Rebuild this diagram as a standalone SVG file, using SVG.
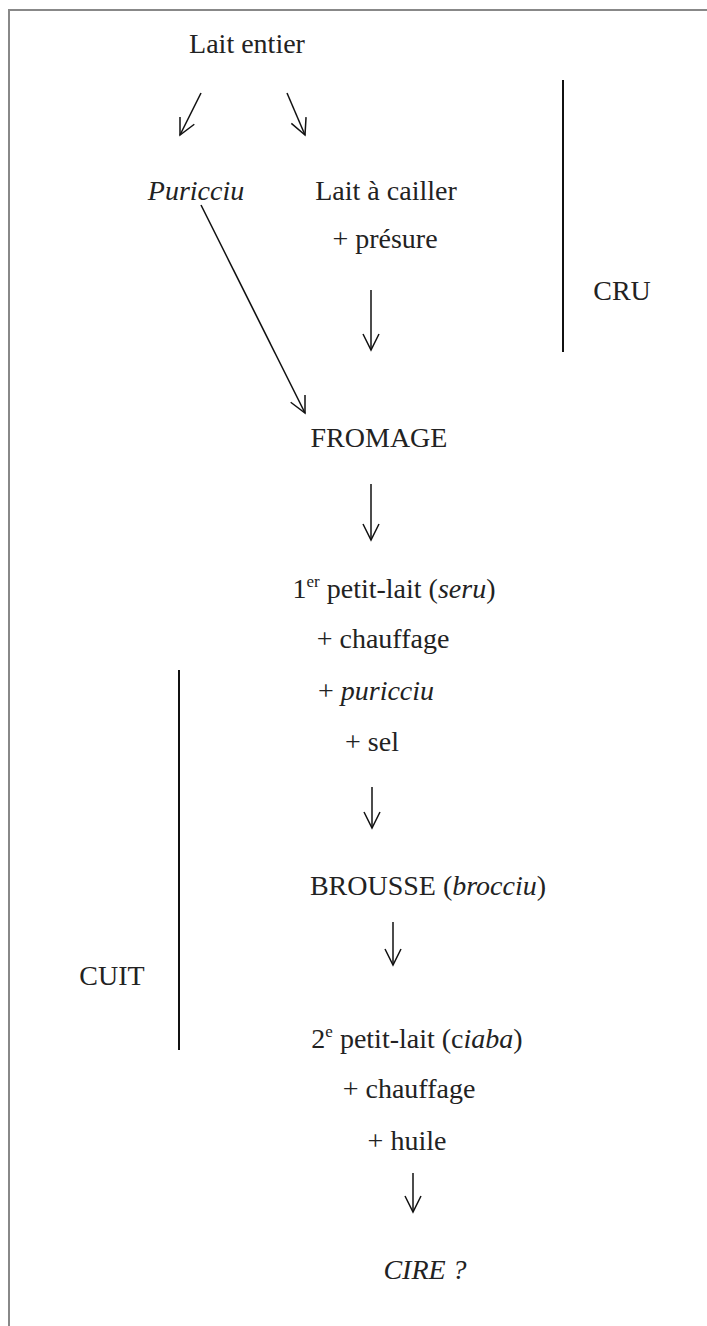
<svg xmlns="http://www.w3.org/2000/svg" width="707" height="1326" viewBox="0 0 707 1326">
  <style>
    text { font-family: "Liberation Serif", "Times New Roman", serif; font-size: 28px; fill: #222; text-anchor: middle; }
    .it { font-style: italic; }
    .sup { font-size: 17px; }
    .conn line { stroke: #111; stroke-width: 1.5; fill: none; }
    .bracket { stroke: #111; stroke-width: 2; }
    .frame { stroke: #888; stroke-width: 2; fill: none; }
  </style>
  <defs>
    <marker id="open-arrow" markerUnits="userSpaceOnUse" markerWidth="20" markerHeight="20" viewBox="0 0 20 20" refX="18" refY="10" orient="auto">
      <path d="M2,2 L18,10 L2,18" fill="none" stroke="#111" stroke-width="1.5"/>
    </marker>
  </defs>
  <rect width="707" height="1326" fill="#fff"/>
  <!-- page frame (top and left edges only) -->
  <polyline class="frame" points="9,1326 9,10 707,10"/>

  <g id="lait-entier"><text x="247" y="53">Lait entier</text></g>
  <g id="puricciu"><text class="it" x="196" y="200">Puricciu</text></g>
  <g id="lait-a-cailler"><text x="386" y="200">Lait à cailler</text></g>
  <g id="presure"><text x="385" y="248">+ présure</text></g>
  <g id="fromage"><text x="379" y="447">FROMAGE</text></g>
  <g id="petit-lait-1">
    <text x="394" y="598">1<tspan class="sup" dy="-11">er</tspan><tspan dy="11"> petit-lait (</tspan><tspan class="it">seru</tspan>)</text>
  </g>
  <g id="chauffage-1"><text x="383" y="648">+ chauffage</text></g>
  <g id="plus-puricciu"><text x="376" y="700">+ <tspan class="it">puricciu</tspan></text></g>
  <g id="sel"><text x="372" y="751">+ sel</text></g>
  <g id="brousse"><text x="428" y="895">BROUSSE (<tspan class="it">brocciu</tspan>)</text></g>
  <g id="petit-lait-2">
    <text x="417" y="1048">2<tspan class="sup" dy="-11">e</tspan><tspan dy="11"> petit-lait (c</tspan><tspan class="it">iaba</tspan>)</text>
  </g>
  <g id="chauffage-2"><text x="409" y="1098">+ chauffage</text></g>
  <g id="huile"><text x="407" y="1150">+ huile</text></g>
  <g id="cire"><text class="it" x="425" y="1279">CIRE ?</text></g>

  <!-- phase brackets -->
  <g id="cru">
    <line class="bracket" x1="563" y1="80" x2="563" y2="352"/>
    <text x="622" y="300">CRU</text>
  </g>
  <g id="cuit">
    <line class="bracket" x1="179" y1="670" x2="179" y2="1050"/>
    <text x="112" y="985">CUIT</text>
  </g>

  <g class="conn" id="connectors">
    <line x1="201" y1="93" x2="180" y2="135" marker-end="url(#open-arrow)"/>
    <line x1="287" y1="93" x2="305" y2="135" marker-end="url(#open-arrow)"/>
    <line x1="201" y1="205" x2="305" y2="413" marker-end="url(#open-arrow)"/>
    <line x1="371" y1="290" x2="371" y2="350" marker-end="url(#open-arrow)"/>
    <line x1="371" y1="484" x2="371" y2="540" marker-end="url(#open-arrow)"/>
    <line x1="372" y1="787" x2="372" y2="828" marker-end="url(#open-arrow)"/>
    <line x1="393" y1="922" x2="393" y2="965" marker-end="url(#open-arrow)"/>
    <line x1="413" y1="1173" x2="413" y2="1212" marker-end="url(#open-arrow)"/>
  </g>
</svg>
